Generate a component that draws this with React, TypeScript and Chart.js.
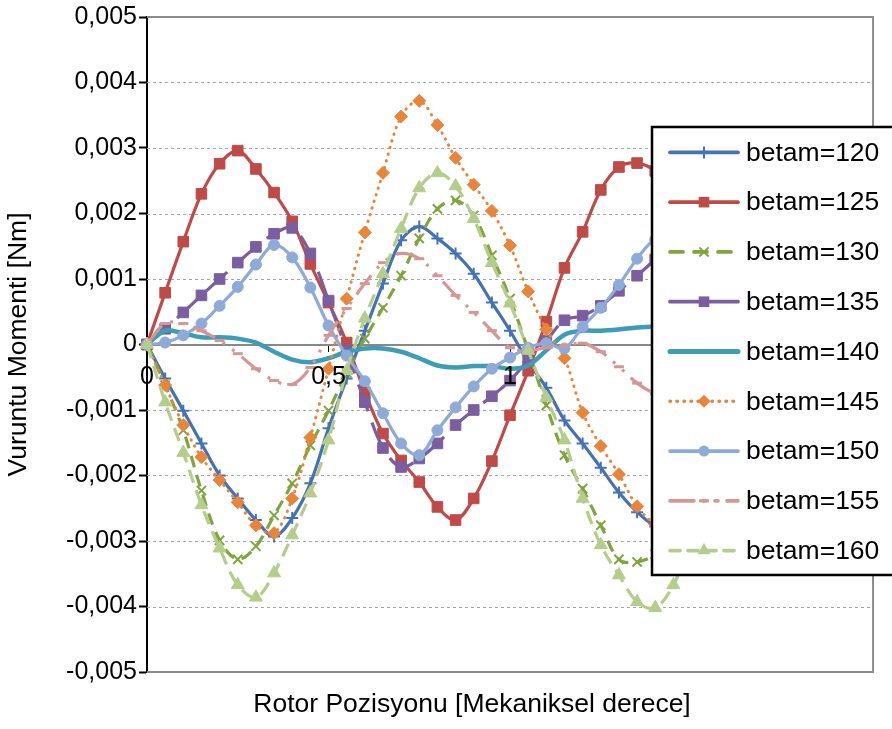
import React, { useEffect, useRef } from 'react';
import { Chart, registerables } from 'chart.js';

Chart.register(...registerables);

const xValues = [0, 0.05, 0.1, 0.15, 0.2, 0.25, 0.3, 0.35, 0.4, 0.45, 0.5, 0.55, 0.6, 0.65, 0.7, 0.75, 0.8, 0.85, 0.9, 0.95, 1.0, 1.05, 1.1, 1.15, 1.2, 1.25, 1.3, 1.35, 1.4, 1.45, 1.5];

const seriesNames = ['betam=120', 'betam=125', 'betam=130', 'betam=135', 'betam=140', 'betam=145', 'betam=150', 'betam=155', 'betam=160'];

const betam120 = [0, -0.00052, -0.00101, -0.00151, -0.00200, -0.00235, -0.00268, -0.00293, -0.00265, -0.00212, -0.00128, -0.00052, 0.00021, 0.00093, 0.00159, 0.00180, 0.00162, 0.00139, 0.00108, 0.00064, 0.00021, -0.00027, -0.00066, -0.00116, -0.00151, -0.00188, -0.00226, -0.00256, -0.00278, -0.00292, -0.00280];
const betam125 = [0, 0.00079, 0.00157, 0.00230, 0.00276, 0.00296, 0.00268, 0.00232, 0.00188, 0.00123, 0.00064, 0.00003, -0.00073, -0.00136, -0.00177, -0.00210, -0.00248, -0.00268, -0.00235, -0.00178, -0.00108, -0.00040, 0.00035, 0.00117, 0.00172, 0.00236, 0.00271, 0.00277, 0.00265, 0.00235, 0.00190];
const betam130 = [0, -0.00062, -0.00131, -0.00223, -0.00299, -0.00328, -0.00308, -0.00261, -0.00212, -0.00154, -0.00101, -0.00043, 0.00009, 0.00056, 0.00105, 0.00162, 0.00207, 0.00220, 0.00197, 0.00136, 0.00070, -0.00009, -0.00093, -0.00169, -0.00220, -0.00276, -0.00328, -0.00332, -0.00320, -0.00285, -0.00220];
const betam135 = [0, 0.00024, 0.00049, 0.00075, 0.00100, 0.00125, 0.00149, 0.00169, 0.00178, 0.00139, 0.00067, -0.00009, -0.00088, -0.00158, -0.00187, -0.00174, -0.00151, -0.00123, -0.00100, -0.00079, -0.00055, -0.00024, 0.00006, 0.00037, 0.00044, 0.00059, 0.00082, 0.00105, 0.00130, 0.00155, 0.00170];
const betam140 = [0, 0.00021, 0.00017, 0.00011, 0.00011, 0.00009, 0.00003, -0.00011, -0.00023, -0.00027, -0.00021, -0.00011, -0.00006, -0.00006, -0.00011, -0.00021, -0.00032, -0.00035, -0.00033, -0.00033, -0.00037, -0.00032, -0.00009, 0.00015, 0.00021, 0.00021, 0.00023, 0.00026, 0.00027, 0.00022, 0.00010];
const betam145 = [0, -0.00062, -0.00123, -0.00172, -0.00207, -0.00241, -0.00276, -0.00288, -0.00235, -0.00142, -0.00037, 0.00070, 0.00171, 0.00262, 0.00348, 0.00372, 0.00335, 0.00285, 0.00244, 0.00204, 0.00151, 0.00081, 0.00023, -0.00021, -0.00104, -0.00155, -0.00198, -0.00247, -0.00275, -0.00288, -0.00260];
const betam150 = [0, 0.00003, 0.00014, 0.00032, 0.00059, 0.00088, 0.00122, 0.00152, 0.00133, 0.00087, 0.00029, -0.00017, -0.00056, -0.00105, -0.00151, -0.00169, -0.00131, -0.00096, -0.00064, -0.00037, -0.00020, -0.00005, 0.00002, -0.00006, 0.00027, 0.00056, 0.00091, 0.00131, 0.00160, 0.00155, 0.00120];
const betam155 = [0, 0.00032, 0.00032, 0.00021, 0.00006, -0.00014, -0.00037, -0.00055, -0.00061, -0.00035, 0.00014, 0.00055, 0.00093, 0.00125, 0.00139, 0.00131, 0.00105, 0.00075, 0.00049, 0.00021, -0.00005, -0.00009, -0.00005, -0.00002, 0.00002, -0.00011, -0.00034, -0.00059, -0.00075, -0.00080, -0.00060];
const betam160 = [0, -0.00088, -0.00165, -0.00245, -0.00311, -0.00367, -0.00386, -0.00349, -0.00291, -0.00227, -0.00146, -0.00040, 0.00040, 0.00108, 0.00177, 0.00239, 0.00262, 0.00242, 0.00192, 0.00125, 0.00063, -0.00009, -0.00081, -0.00146, -0.00235, -0.00306, -0.00352, -0.00393, -0.00402, -0.00367, -0.00299];

const seriesValues = [betam120, betam125, betam130, betam135, betam140, betam145, betam150, betam155, betam160];

const xTitle = 'Rotor Pozisyonu [Mekaniksel derece]';
const yTitle = 'Vuruntu Momenti [Nm]';

const FONT = "'Liberation Sans', Arial, sans-serif";

type SeriesStyle = {
  color: string;
  width: number;
  dash: number[];
  legendDash: number[];
  cap: CanvasLineCap;
  point: string | false;
  radius: number;
  pointWidth: number;
};

const seriesStyles: SeriesStyle[] = [
  { color: '#4472B5', width: 3.2, dash: [], legendDash: [], cap: 'butt', point: 'cross', radius: 6, pointWidth: 2 },
  { color: '#BE4B48', width: 3.2, dash: [], legendDash: [], cap: 'butt', point: 'rect', radius: 7.5, pointWidth: 1 },
  { color: '#80A540', width: 3.2, dash: [12, 8], legendDash: [13, 11], cap: 'butt', point: 'crossRot', radius: 6.5, pointWidth: 2 },
  { color: '#7B5EA0', width: 3.2, dash: [28, 12], legendDash: [], cap: 'butt', point: 'rect', radius: 7.5, pointWidth: 1 },
  { color: '#3C9DB5', width: 4.5, dash: [], legendDash: [], cap: 'butt', point: false, radius: 0, pointWidth: 0 },
  { color: '#E8853A', width: 3, dash: [0.5, 6.5], legendDash: [0.5, 6.5], cap: 'round', point: 'rectRot', radius: 6.5, pointWidth: 1 },
  { color: '#8EAAD8', width: 3.2, dash: [], legendDash: [], cap: 'butt', point: 'circle', radius: 5.5, pointWidth: 1 },
  { color: '#D49795', width: 3.2, dash: [24, 9, 3, 9, 3, 9], legendDash: [24, 9, 3, 9, 3, 9], cap: 'butt', point: 'line', radius: 5, pointWidth: 3 },
  { color: '#B5CD8C', width: 3.2, dash: [14, 8], legendDash: [10, 8], cap: 'butt', point: 'triangle', radius: 7.5, pointWidth: 1 },
];

function fmtY(v: number): string {
  const n = Math.round(Number(v) * 1000);
  if (n === 0) return '0';
  return (n < 0 ? '-' : '') + '0,00' + Math.abs(n);
}

function fmtX(v: number): string {
  const n = Math.round(Number(v) * 10) / 10;
  return String(n).replace('.', ',');
}

function drawMarker(ctx: CanvasRenderingContext2D, style: string | false, x: number, y: number, r: number, color: string, w: number) {
  if (!style || r <= 0) return;
  ctx.save();
  ctx.setLineDash([]);
  ctx.fillStyle = color;
  ctx.strokeStyle = color;
  ctx.lineWidth = w;
  ctx.beginPath();
  switch (style) {
    case 'rect': {
      const s = r * Math.SQRT1_2;
      ctx.rect(x - s, y - s, 2 * s, 2 * s);
      ctx.fill();
      break;
    }
    case 'rectRot': {
      ctx.moveTo(x, y - r);
      ctx.lineTo(x + r, y);
      ctx.lineTo(x, y + r);
      ctx.lineTo(x - r, y);
      ctx.closePath();
      ctx.fill();
      break;
    }
    case 'circle':
      ctx.arc(x, y, r, 0, Math.PI * 2);
      ctx.fill();
      break;
    case 'triangle': {
      let a = 0;
      ctx.moveTo(x + Math.sin(a) * r, y - Math.cos(a) * r);
      a += (2 * Math.PI) / 3;
      ctx.lineTo(x + Math.sin(a) * r, y - Math.cos(a) * r);
      a += (2 * Math.PI) / 3;
      ctx.lineTo(x + Math.sin(a) * r, y - Math.cos(a) * r);
      ctx.closePath();
      ctx.fill();
      break;
    }
    case 'cross':
      ctx.moveTo(x, y - r);
      ctx.lineTo(x, y + r);
      ctx.moveTo(x - r, y);
      ctx.lineTo(x + r, y);
      ctx.stroke();
      break;
    case 'crossRot': {
      const s = r * Math.SQRT1_2;
      ctx.moveTo(x - s, y - s);
      ctx.lineTo(x + s, y + s);
      ctx.moveTo(x + s, y - s);
      ctx.lineTo(x - s, y + s);
      ctx.stroke();
      break;
    }
    case 'line':
      ctx.moveTo(x - r, y);
      ctx.lineTo(x + r, y);
      ctx.stroke();
      break;
  }
  ctx.restore();
}

const gridPlugin = {
  id: 'excelGrid',
  beforeDatasetsDraw(chart: any) {
    const { ctx, chartArea: a, scales } = chart;
    const y = scales.y;
    ctx.save();
    ctx.strokeStyle = '#A6A6A6';
    ctx.lineWidth = 1;
    ctx.setLineDash([3, 3]);
    y.ticks.forEach((t: any) => {
      const n = Math.round(t.value * 1000);
      if (n === 0 || n === 5) return;
      const py = Math.round(y.getPixelForValue(t.value)) + 0.5;
      ctx.beginPath();
      ctx.moveTo(a.left, py);
      ctx.lineTo(a.right, py);
      ctx.stroke();
    });
    ctx.setLineDash([]);
    ctx.strokeStyle = '#8C8C8C';
    ctx.lineWidth = 2;
    ctx.beginPath();
    ctx.moveTo(a.left, a.top);
    ctx.lineTo(a.right, a.top);
    ctx.lineTo(a.right, a.bottom);
    ctx.lineTo(a.left, a.bottom);
    ctx.stroke();
    ctx.restore();
  },
};

const legendPlugin = {
  id: 'excelLegend',
  afterDraw(chart: any) {
    const { ctx, chartArea: a } = chart;
    const left = 652;
    const top = 127;
    const right = 894;
    const bottom = 575;
    ctx.save();
    ctx.fillStyle = '#ffffff';
    ctx.fillRect(left, top, right - left, bottom - top);
    ctx.strokeStyle = '#000000';
    ctx.lineWidth = 2.5;
    ctx.strokeRect(left, top, right - left, bottom - top);
    const step = (bottom - top) / seriesNames.length;
    seriesNames.forEach((name, i) => {
      const st = seriesStyles[i];
      const cy = top + step * (i + 0.5) + 0.5;
      ctx.save();
      ctx.beginPath();
      ctx.strokeStyle = st.color;
      ctx.lineWidth = st.width + 0.5;
      ctx.lineCap = 'round';
      ctx.setLineDash(st.legendDash);
      ctx.moveTo(670, cy);
      ctx.lineTo(738, cy);
      ctx.stroke();
      ctx.restore();
      drawMarker(ctx, st.point, 704, cy, st.radius, st.color, st.pointWidth);
      ctx.fillStyle = '#000';
      ctx.font = `26.5px ${FONT}`;
      ctx.textBaseline = 'middle';
      ctx.textAlign = 'left';
      ctx.fillText(name, 746, cy + 1);
    });
    // x axis title
    ctx.fillStyle = '#000';
    ctx.font = `26.5px ${FONT}`;
    ctx.textBaseline = 'middle';
    ctx.textAlign = 'center';
    ctx.fillText(xTitle, 472, a.bottom + 33);
    ctx.restore();
  },
};

export default function App() {
  const ref = useRef<HTMLCanvasElement | null>(null);

  useEffect(() => {
    if (!ref.current) return;
    const datasets = seriesNames.map((name, i) => {
      const st = seriesStyles[i];
      return {
        label: name,
        data: xValues.map((x, j) => ({ x, y: seriesValues[i][j] })),
        borderColor: st.color,
        backgroundColor: st.color,
        borderWidth: st.width,
        borderDash: st.dash,
        borderCapStyle: st.cap,
        tension: 0.35,
        pointStyle: st.point,
        pointRadius: st.radius,
        pointBorderWidth: st.pointWidth,
        pointBackgroundColor: st.color,
        pointBorderColor: st.color,
        clip: 10,
        order: seriesNames.length - i,
      };
    });

    const chart = new Chart(ref.current, {
      type: 'line',
      data: { datasets: datasets as any },
      options: {
        animation: false,
        responsive: false,
        events: [],
        layout: { padding: { top: 16, right: 10, left: 0, bottom: 57 } },
        plugins: {
          legend: { display: false },
          tooltip: { enabled: false },
          title: { display: false },
        },
        scales: {
          x: {
            type: 'linear',
            min: 0,
            max: 2,
            position: { y: 0 } as any,
            ticks: {
              z: 1,
              stepSize: 0.5,
              autoSkip: false,
              maxRotation: 0,
              padding: 12,
              color: '#000',
              font: { family: FONT, size: 25 },
              callback: (v: any) => fmtX(v),
            },
            grid: { drawOnChartArea: false, drawTicks: true, tickLength: 6, tickColor: '#000', tickWidth: 1 },
            border: { color: '#888888', width: 2 },
          },
          y: {
            type: 'linear',
            min: -0.005,
            max: 0.005,
            ticks: {
              stepSize: 0.001,
              padding: 2,
              color: '#000',
              font: { family: FONT, size: 25 },
              callback: (v: any) => fmtY(v),
            },
            grid: { drawOnChartArea: false, drawTicks: true, tickLength: 8, tickColor: '#000', tickWidth: 2 },
            border: { color: '#000', width: 2 },
            title: {
              display: true,
              text: yTitle,
              color: '#000',
              font: { family: FONT, size: 26.5 },
              padding: { top: 3, bottom: 0 },
            },
            afterFit: (s: any) => {
              s.width = 147;
            },
          },
        },
      },
      plugins: [gridPlugin, legendPlugin],
    });
    return () => chart.destroy();
  }, []);

  return (
    <div style={{ position: 'absolute', left: 0, top: 0, width: 892, height: 729, background: '#fff' }}>
      <canvas ref={ref} width={892} height={729} style={{ display: 'block', width: 892, height: 729 }} />
    </div>
  );
}
